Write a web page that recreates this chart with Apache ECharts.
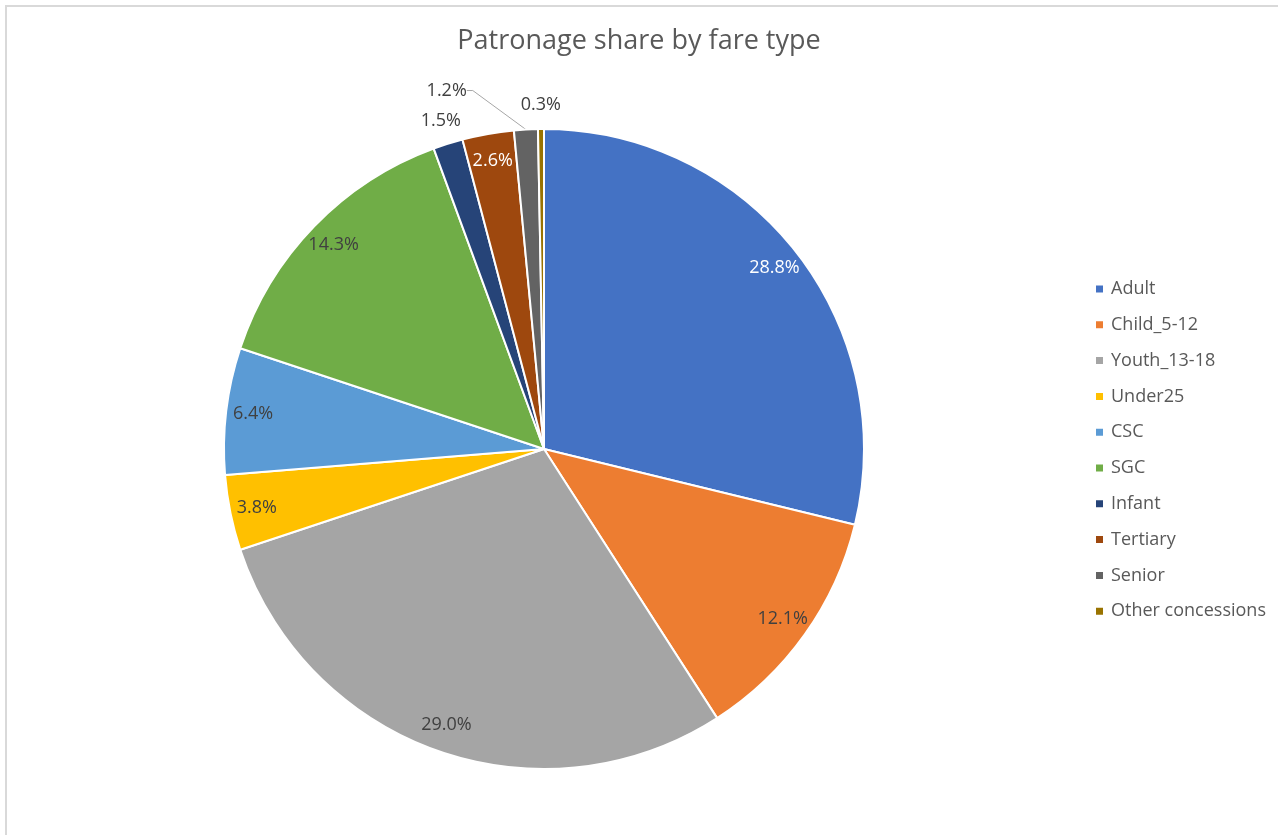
<!DOCTYPE html>
<html>
<head>
<meta charset="utf-8">
<script src="https://cdn.jsdelivr.net/npm/echarts@6/dist/echarts.min.js"></script>
<style>
  html, body { margin: 0; padding: 0; background: #fff; overflow: hidden; }
  #frame { position: absolute; left: 5px; top: 5px; width: 1400px; height: 1000px;
           border-left: 2px solid #d9d9d9; border-top: 2px solid #d9d9d9; }
  #chart { position: absolute; left: 0; top: 0; width: 1278px; height: 835px; }
</style>
</head>
<body>
<div id="frame"></div>
<div id="chart"></div>
<script>
const categories = ["Adult", "Child_5-12", "Youth_13-18", "Under25", "CSC", "SGC", "Infant", "Tertiary", "Senior", "Other concessions"];
const shares = [28.8, 12.1, 29.0, 3.8, 6.4, 14.3, 1.5, 2.6, 1.2, 0.3];
const colors = ["#4472C4", "#ED7D31", "#A5A5A5", "#FFC000", "#5B9BD5", "#70AD47", "#264478", "#9E480E", "#636363", "#997300"];
// slices whose label sits outside the pie
const outside = ["Infant", "Senior", "Other concessions"];
const whiteLabel = ["Adult", "Tertiary"];

const font = "'Open Sans', sans-serif";
const fmt = p => p.value.toFixed(1) + "%";

const chart = echarts.init(document.getElementById("chart"));

const mainData = categories.map((name, i) => ({
  name: name,
  value: shares[i],
  itemStyle: { color: colors[i] },
  label: { show: name === "Senior" },
  labelLine: { show: name === "Senior" }
}));

// transparent ring just inside the rim, carries the inside labels
const innerData = categories.map((name, i) => ({
  name: name,
  value: shares[i],
  label: {
    show: outside.indexOf(name) < 0,
    color: whiteLabel.indexOf(name) >= 0 ? "#ffffff" : "#404040"
  }
}));

// transparent ring outside the rim for the small slices
const outerData = categories.map((name, i) => ({
  name: name,
  value: shares[i],
  label: { show: name === "Infant" || name === "Other concessions" }
}));

chart.setOption({
  color: colors,
  title: {
    text: "Patronage share by fare type",
    left: "center",
    top: 23,
    textStyle: { fontFamily: font, fontSize: 27, fontWeight: "normal", color: "#595959" }
  },
  legend: {
    orient: "vertical",
    left: 1089,
    top: 274,
    icon: "rect",
    itemWidth: 9,
    itemHeight: 9,
    itemGap: 15.8,
    data: categories,
    textStyle: { fontFamily: font, fontSize: 18, color: "#595959", lineHeight: 20, padding: [0, 0, 0, 2] }
  },
  series: [
    {
      name: "share",
      type: "pie",
      center: [544, 449],
      radius: [0, 320],
      startAngle: 90,
      clockwise: true,
      avoidLabelOverlap: false,
      itemStyle: { borderColor: "#fff", borderWidth: 2 },
      label: {
        position: "outside",
        formatter: fmt,
        fontFamily: font,
        fontSize: 18,
        color: "#404040"
      },
      labelLine: { length: 20, length2: 6, lineStyle: { color: "#a6a6a6", width: 1 } },
      labelLayout: function (params) {
        if (params.dataIndex === categories.indexOf("Senior")) {
          const r = params.labelRect;
          return {
            x: r.x - 47,
            y: r.y + r.height / 2 - 19,
            align: "left",
            verticalAlign: "middle"
          };
        }
      },
      emphasis: { disabled: true },
      data: mainData
    },
    {
      name: "inner labels",
      type: "pie",
      center: [544, 449],
      radius: [260, 320],
      startAngle: 90,
      silent: true,
      itemStyle: { color: "transparent" },
      label: { position: "inside", formatter: fmt, fontFamily: font, fontSize: 18 },
      labelLine: { show: false },
      data: innerData
    },
    {
      name: "outer labels",
      type: "pie",
      center: [544, 449],
      radius: [320, 362],
      startAngle: 90,
      silent: true,
      itemStyle: { color: "transparent" },
      label: { position: "inside", formatter: fmt, fontFamily: font, fontSize: 18, color: "#404040" },
      labelLine: { show: false },
      data: outerData
    }
  ]
});
</script>
</body>
</html>
